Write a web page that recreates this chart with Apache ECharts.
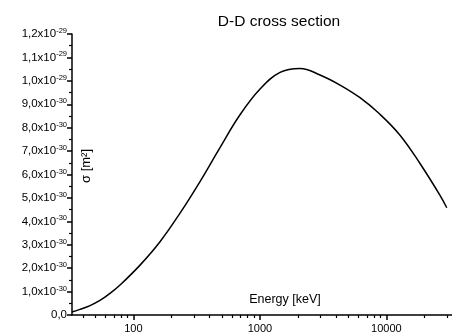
<!DOCTYPE html>
<html>
<head>
<meta charset="utf-8">
<script src="https://cdn.jsdelivr.net/npm/echarts@6/dist/echarts.min.js"></script>
<style>html,body{margin:0;padding:0;background:#fff}#c{width:452px;height:334px}</style>
</head>
<body>
<div id="c"></div>
<script>
// Energy in keV
var energy = [32.7, 37.8, 45.4, 54.4, 65.3, 78.4, 112.8, 162.3, 233.6, 336.1, 483.7, 696, 1002, 1442, 2075, 2987, 4298, 6185, 8901, 12810, 18430, 26530, 30000];
// Cross section in units of 1e-30 m^2
var sigma = [0.13, 0.24, 0.40, 0.62, 0.92, 1.28, 2.13, 3.13, 4.35, 5.70, 7.15, 8.55, 9.65, 10.36, 10.53, 10.25, 9.82, 9.28, 8.57, 7.68, 6.47, 5.11, 4.58];
var xMajorTicks = [100, 1000, 10000];
var xMinorTicks = [40, 50, 60, 70, 80, 90, 200, 300, 400, 500, 600, 700, 800, 900, 2000, 3000, 4000, 5000, 6000, 7000, 8000, 9000, 20000, 30000];

var FONT = '"Liberation Sans", Arial, sans-serif';
var chart = echarts.init(document.getElementById('c'), null, {renderer: 'canvas'});
var data = energy.map(function (e, i) { return [e, sigma[i]]; });

function yLabel(v) {
  if (v === 0) return '{m|0,0}';
  var exp, man;
  if (v >= 10) { exp = '-29'; man = (v / 10).toFixed(1); }
  else { exp = '-30'; man = v.toFixed(1); }
  return '{m|' + man.replace('.', ',') + 'x10}{s|' + exp + '}';
}

var xBase = {
  type: 'log', logBase: 10, min: 32.7, max: 33000, gridIndex: 0,
  splitLine: {show: false}, minorTick: {show: false}, minorSplitLine: {show: false}
};

chart.setOption({
  animation: false,
  backgroundColor: '#fff',
  title: {
    text: 'D-D cross section', left: 274, top: 9, textAlign: 'center',
    textStyle: {fontFamily: FONT, fontSize: 15.5, fontWeight: 'normal', color: '#000'}
  },
  grid: {left: 72, top: 34, right: 0, bottom: 19, containLabel: false, outerBoundsMode: 'none'},
  xAxis: [
    Object.assign({}, xBase, {
      position: 'bottom',
      axisLine: {show: true, lineStyle: {color: '#000', width: 1.5}},
      axisTick: {show: true, inside: false, length: 5, lineStyle: {color: '#000', width: 1.5}, customValues: xMajorTicks},
      axisLabel: {show: true, customValues: xMajorTicks, margin: 8, color: '#000', fontFamily: FONT, fontSize: 11,
        formatter: function (v) { return String(Math.round(v)); }}
    }),
    Object.assign({}, xBase, {
      position: 'bottom',
      axisLine: {show: false},
      axisTick: {show: true, inside: false, length: 3, lineStyle: {color: '#000', width: 1.2}, customValues: xMinorTicks},
      axisLabel: {show: false}
    })
  ],
  yAxis: {
    type: 'value', min: 0, max: 12, interval: 1,
    axisLine: {show: true, lineStyle: {color: '#000', width: 1.5}},
    axisTick: {show: true, inside: false, length: 5, lineStyle: {color: '#000', width: 1.5}},
    minorTick: {show: true, splitNumber: 2, length: 3, lineStyle: {color: '#000', width: 1.2}},
    splitLine: {show: false},
    axisLabel: {
      margin: 5, color: '#000',
      formatter: yLabel,
      rich: {
        m: {fontFamily: FONT, fontSize: 11.5, color: '#000'},
        s: {fontFamily: FONT, fontSize: 7.5, color: '#000', padding: [0, 0, 6, 0]}
      }
    }
  },
  graphic: [{
    type: 'text', x: 86, y: 166, rotation: Math.PI / 2,
    style: {text: 'σ [m²]', fontFamily: FONT, fontSize: 13, fill: '#000', align: 'center', verticalAlign: 'middle'}
  }, {
    type: 'text', x: 285, y: 300,
    style: {text: 'Energy [keV]', fontFamily: FONT, fontSize: 12.5, fill: '#000', align: 'center', verticalAlign: 'middle'}
  }],
  series: [{
    type: 'line', xAxisIndex: 0, data: data, smooth: 0.4, symbol: 'none',
    lineStyle: {color: '#000', width: 1.5}
  }]
});
</script>
</body>
</html>
